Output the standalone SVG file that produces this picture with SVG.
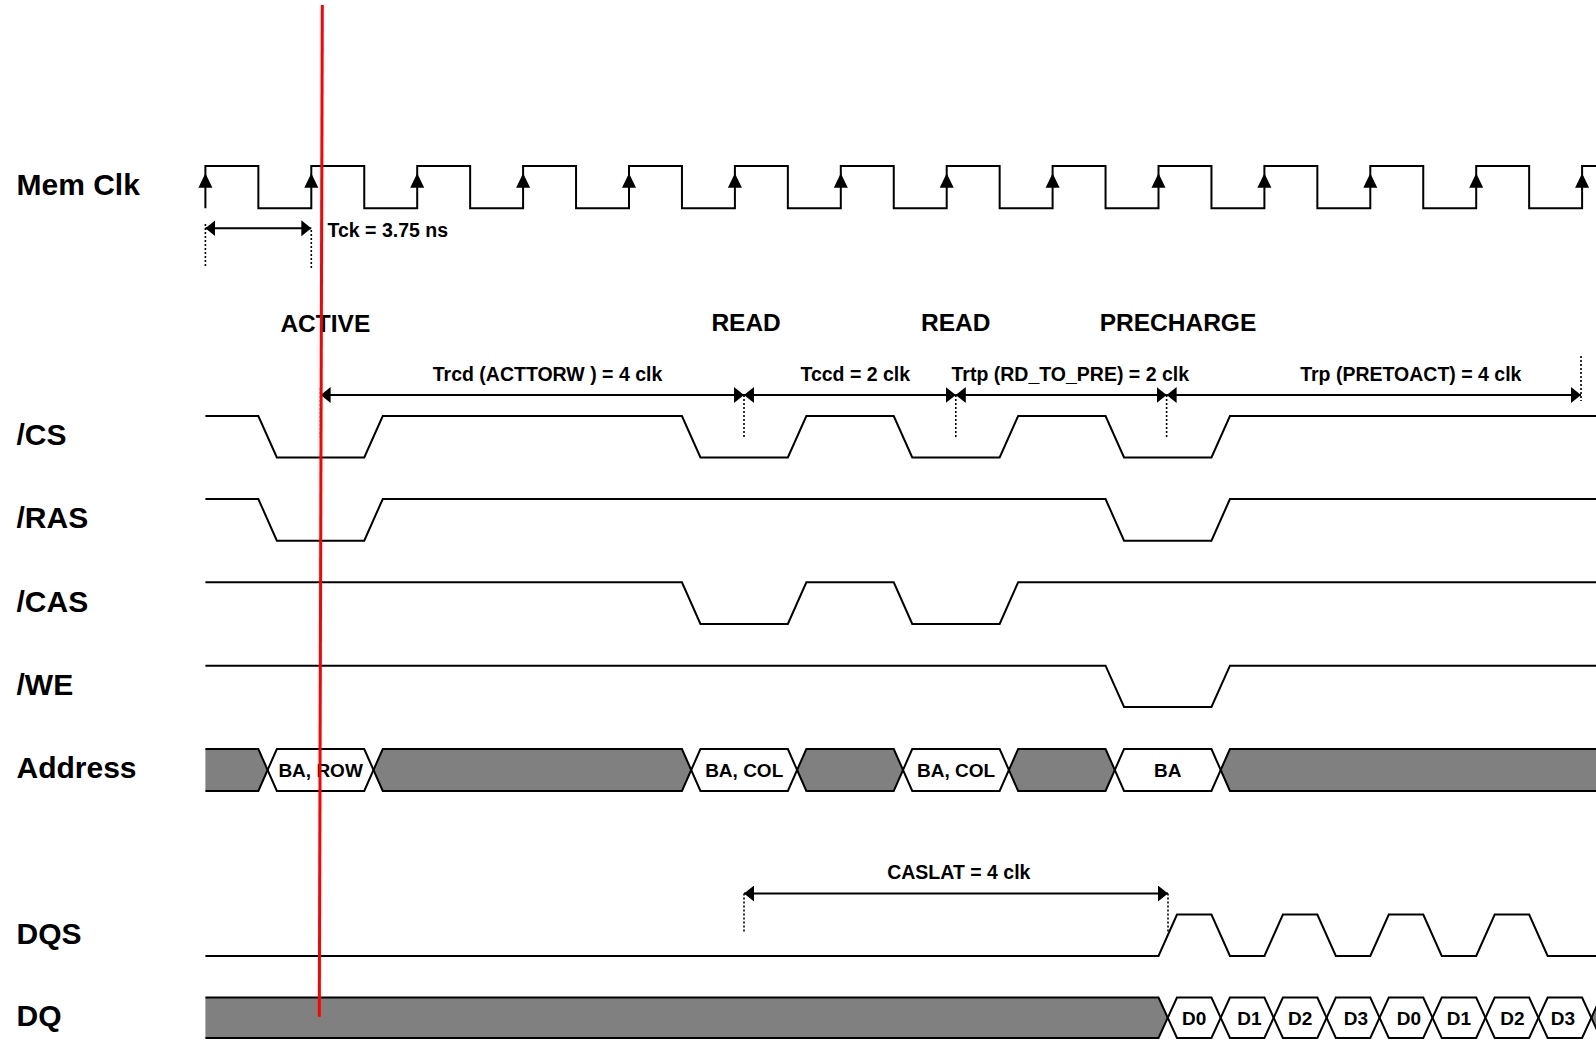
<svg xmlns="http://www.w3.org/2000/svg" xmlns:xlink="http://www.w3.org/1999/xlink" width="1596" height="1039" viewBox="0 0 1596 1039">
<style>
  .sig{fill:none;stroke:#000;stroke-width:2;stroke-linejoin:miter}
  .bus{fill:#808080;stroke:none}
  .lbl{font-family:"Liberation Sans",Arial,sans-serif;font-weight:bold;font-size:30px;fill:#000}
  .cmd{font-family:"Liberation Sans",Arial,sans-serif;font-weight:bold;font-size:24.5px;fill:#000;text-anchor:middle}
  .dim{font-family:"Liberation Sans",Arial,sans-serif;font-weight:bold;font-size:19.5px;fill:#000;text-anchor:middle}
  .val{font-family:"Liberation Sans",Arial,sans-serif;font-weight:bold;font-size:19px;fill:#000;text-anchor:middle}
  .dline{fill:none;stroke:#000;stroke-width:2;marker-start:url(#ah);marker-end:url(#ah)}
  .dot{fill:none;stroke:#000;stroke-width:1.6;stroke-dasharray:2 2}
</style>
<defs>
  <marker id="ah" viewBox="0 0 10 16" refX="10" refY="8" markerWidth="10" markerHeight="16" markerUnits="userSpaceOnUse" orient="auto-start-reverse">
    <path d="M0,0 L10,8 L0,16 Z" fill="#000"/>
  </marker>
  <path id="clkArr" d="M0,0 L7,14.4 L-7,14.4 Z" fill="#000"/>
</defs>
<rect width="1596" height="1039" fill="#fff"/>

<g id="labels">
  <text class="lbl" x="16.5" y="195.4">Mem Clk</text>
  <text class="lbl" x="16.5" y="444.8">/CS</text>
  <text class="lbl" x="16.5" y="528.3">/RAS</text>
  <text class="lbl" x="16.5" y="611.7">/CAS</text>
  <text class="lbl" x="16.5" y="695">/WE</text>
  <text class="lbl" x="16.5" y="777.6">Address</text>
  <text class="lbl" x="16.5" y="943.5">DQS</text>
  <text class="lbl" x="16.5" y="1025.5">DQ</text>
</g>

<g id="sig-memclk">
  <path class="sig" d="M205.4,208.3 V166 H258.35 V208.3 H311.3 V166 H364.25 V208.3 H417.2 V166 H470.15 V208.3 H523.1 V166 H576.05 V208.3 H629 V166 H681.95 V208.3 H734.9 V166 H787.85 V208.3 H840.8 V166 H893.75 V208.3 H946.7 V166 H999.65 V208.3 H1052.6 V166 H1105.55 V208.3 H1158.5 V166 H1211.45 V208.3 H1264.4 V166 H1317.35 V208.3 H1370.3 V166 H1423.25 V208.3 H1476.2 V166 H1529.15 V208.3 H1582.1 V166 H1596"/>
  <use xlink:href="#clkArr" x="205.4" y="173.3"/>
  <use xlink:href="#clkArr" x="311.3" y="173.3"/>
  <use xlink:href="#clkArr" x="417.2" y="173.3"/>
  <use xlink:href="#clkArr" x="523.1" y="173.3"/>
  <use xlink:href="#clkArr" x="629" y="173.3"/>
  <use xlink:href="#clkArr" x="734.9" y="173.3"/>
  <use xlink:href="#clkArr" x="840.8" y="173.3"/>
  <use xlink:href="#clkArr" x="946.7" y="173.3"/>
  <use xlink:href="#clkArr" x="1052.6" y="173.3"/>
  <use xlink:href="#clkArr" x="1158.5" y="173.3"/>
  <use xlink:href="#clkArr" x="1264.4" y="173.3"/>
  <use xlink:href="#clkArr" x="1370.3" y="173.3"/>
  <use xlink:href="#clkArr" x="1476.2" y="173.3"/>
  <use xlink:href="#clkArr" x="1582.1" y="173.3"/>
</g>

<g id="commands">
  <text class="cmd" x="325.3" y="332.3">ACTIVE</text>
  <text class="cmd" x="746.1" y="330.5">READ</text>
  <text class="cmd" x="955.8" y="330.5">READ</text>
  <text class="cmd" x="1178" y="330.5">PRECHARGE</text>
</g>

<g id="sig-cs">
  <path class="sig" d="M205.4,416 H258.35 L276.85,457.5 H364.25 L382.75,416 H681.95 L700.45,457.5 H787.85 L806.35,416 H893.75 L912.25,457.5 H999.65 L1018.15,416 H1105.55 L1124.05,457.5 H1211.45 L1229.95,416 H1596"/>
</g>
<g id="sig-ras">
  <path class="sig" d="M205.4,499 H258.35 L276.85,540.7 H364.25 L382.75,499 H1105.55 L1124.05,540.7 H1211.45 L1229.95,499 H1596"/>
</g>
<g id="sig-cas">
  <path class="sig" d="M205.4,582.3 H681.95 L700.45,624 H787.85 L806.35,582.3 H893.75 L912.25,624 H999.65 L1018.15,582.3 H1596"/>
</g>
<g id="sig-we">
  <path class="sig" d="M205.4,665.7 H1105.55 L1124.05,707 H1211.45 L1229.95,665.7 H1596"/>
</g>

<g id="sig-address">
  <polygon class="bus" points="205.4,749 258.35,749 267.6,770 258.35,791 205.4,791"/>
  <polygon class="bus" points="373.5,770 382.75,749 681.95,749 691.2,770 681.95,791 382.75,791"/>
  <polygon class="bus" points="797.1,770 806.35,749 893.75,749 903,770 893.75,791 806.35,791"/>
  <polygon class="bus" points="1008.9,770 1018.15,749 1105.55,749 1114.8,770 1105.55,791 1018.15,791"/>
  <polygon class="bus" points="1220.7,770 1229.95,749 1596,749 1596,791 1229.95,791"/>
  <path class="sig" d="M205.4,749 H258.35 L276.85,791 H364.25 L382.75,749 H681.95 L700.45,791 H787.85 L806.35,749 H893.75 L912.25,791 H999.65 L1018.15,749 H1105.55 L1124.05,791 H1211.45 L1229.95,749 H1596"/>
  <path class="sig" d="M205.4,791 H258.35 L276.85,749 H364.25 L382.75,791 H681.95 L700.45,749 H787.85 L806.35,791 H893.75 L912.25,749 H999.65 L1018.15,791 H1105.55 L1124.05,749 H1211.45 L1229.95,791 H1596"/>
  <text class="val" x="320.6" y="776.8">BA, ROW</text>
  <text class="val" x="744.2" y="776.8">BA, COL</text>
  <text class="val" x="956" y="776.8">BA, COL</text>
  <text class="val" x="1167.8" y="776.8">BA</text>
</g>

<g id="sig-dqs">
  <path class="sig" d="M205.4,956 H1158.5 L1177,914.5 H1211.45 L1229.95,956 H1264.4 L1282.9,914.5 H1317.35 L1335.85,956 H1370.3 L1388.8,914.5 H1423.25 L1441.75,956 H1476.2 L1494.7,914.5 H1529.15 L1547.65,956 H1596"/>
</g>

<g id="sig-dq">
  <polygon class="bus" points="205.4,997.5 1158.5,997.5 1167.75,1017.75 1158.5,1038 205.4,1038"/>
  <polygon class="bus" points="1591.35,1017.75 1596,1007.57 1596,1027.93"/>
  <path class="sig" d="M205.4,997.5 H1158.5 L1177,1038 H1211.45 L1229.95,997.5 H1264.4 L1282.9,1038 H1317.35 L1335.85,997.5 H1370.3 L1388.8,1038 H1423.25 L1441.75,997.5 H1476.2 L1494.7,1038 H1529.15 L1547.65,997.5 H1582.1 L1600.6,1038"/>
  <path class="sig" d="M205.4,1038 H1158.5 L1177,997.5 H1211.45 L1229.95,1038 H1264.4 L1282.9,997.5 H1317.35 L1335.85,1038 H1370.3 L1388.8,997.5 H1423.25 L1441.75,1038 H1476.2 L1494.7,997.5 H1529.15 L1547.65,1038 H1582.1 L1600.6,997.5"/>
  <text class="val" x="1194.2" y="1025">D0</text>
  <text class="val" x="1249.5" y="1025">D1</text>
  <text class="val" x="1300.1" y="1025">D2</text>
  <text class="val" x="1356" y="1025">D3</text>
  <text class="val" x="1409" y="1025">D0</text>
  <text class="val" x="1459" y="1025">D1</text>
  <text class="val" x="1512.5" y="1025">D2</text>
  <text class="val" x="1563" y="1025">D3</text>
</g>

<g id="connectors">
  <line class="dot" x1="205.4" y1="224" x2="205.4" y2="268"/>
  <line class="dot" x1="311.3" y1="230" x2="311.3" y2="270"/>
  <line class="dline" x1="205.4" y1="228.3" x2="311.3" y2="228.3"/>
  <text class="dim" x="387.8" y="236.7">Tck = 3.75 ns</text>

  <line class="dot" x1="320.6" y1="388" x2="320.6" y2="437"/>
  <line class="dot" x1="744" y1="395" x2="744" y2="437"/>
  <line class="dot" x1="955.8" y1="395" x2="955.8" y2="437"/>
  <line class="dot" x1="1166.6" y1="395" x2="1166.6" y2="437"/>
  <line class="dot" x1="1581" y1="356" x2="1581" y2="401"/>
  <line class="dline" x1="320.6" y1="395" x2="744" y2="395"/>
  <line class="dline" x1="744" y1="395" x2="955.8" y2="395"/>
  <line class="dline" x1="955.8" y1="395" x2="1166.6" y2="395"/>
  <line class="dline" x1="1166.6" y1="395" x2="1581" y2="395"/>
  <text class="dim" x="547.5" y="380.7">Trcd (ACTTORW ) = 4 clk</text>
  <text class="dim" x="855.3" y="380.7">Tccd = 2 clk</text>
  <text class="dim" x="1070.3" y="380.7">Trtp (RD_TO_PRE) = 2 clk</text>
  <text class="dim" x="1410.8" y="380.7">Trp (PRETOACT) = 4 clk</text>

  <line class="dot" x1="744" y1="893.5" x2="744" y2="932"/>
  <line class="dot" x1="1168" y1="893.5" x2="1168" y2="932"/>
  <line class="dline" x1="744" y1="893.5" x2="1168" y2="893.5"/>
  <text class="dim" x="958.8" y="879">CASLAT = 4 clk</text>
</g>

<line id="marker-line" x1="322.3" y1="5" x2="319.3" y2="1016.7" stroke="#ff0000" stroke-width="3"/>
</svg>
